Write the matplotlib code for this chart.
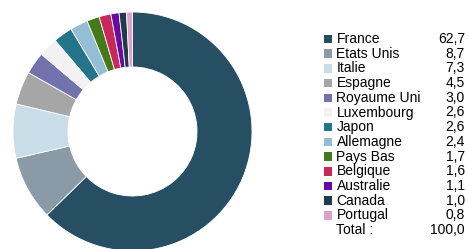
import matplotlib
matplotlib.use("Agg")
import matplotlib.pyplot as plt
from matplotlib.patches import Rectangle

countries = ["France", "Etats Unis", "Italie", "Espagne", "Royaume Uni", "Luxembourg",
             "Japon", "Allemagne", "Pays Bas", "Belgique", "Australie", "Canada", "Portugal"]
values = [62.7, 8.7, 7.3, 4.5, 3.0, 2.6, 2.6, 2.4, 1.7, 1.6, 1.1, 1.0, 0.8]
colors = ["#264f63", "#8a9ba7", "#c9dde9", "#a6a6a6", "#7272ae", "#f2f2f2",
          "#25758a", "#96bdd6", "#457a1a", "#c8285a", "#6a0aa0", "#1f3a4a", "#dca2cc"]
total_label = "Total :"
total_value = "100,0"

plt.rcParams['font.family'] = ['Liberation Sans', 'DejaVu Sans']

W, H = 468, 249
fig = plt.figure(figsize=(W / 100, H / 100), dpi=100)

# donut
cx, cy, r = 132.5, 131.5, 119.5
ax = fig.add_axes([(cx - r) / W, (H - cy - r) / H, 2 * r / W, 2 * r / H])
ax.pie(values, colors=colors, startangle=90, counterclock=False, radius=1,
       wedgeprops=dict(width=0.46, edgecolor="white", linewidth=0.6))
ax.set_xlim(-1, 1)
ax.set_ylim(-1, 1)
ax.set_aspect("equal")
ax.axis("off")

# legend
y0, step = 39.0, 14.7
sq = 8.5
fs = 10
for i, (name, v, c) in enumerate(zip(countries, values, colors)):
    y = y0 + i * step
    fig.patches.append(Rectangle(((323.5) / W, (H - y - sq / 2) / H), sq / W, sq / H,
                                 transform=fig.transFigure, facecolor=c, edgecolor="none"))
    fig.text(336.5 / W, (H - y) / H, name, fontsize=fs, va="center", ha="left", color="black")
    fig.text(465 / W, (H - y) / H, f"{v:.1f}".replace(".", ","), fontsize=fs,
             va="center", ha="right", color="black")
y = y0 + len(countries) * step
fig.text(336.5 / W, (H - y) / H, total_label, fontsize=fs, va="center", ha="left", color="black")
fig.text(465 / W, (H - y) / H, total_value, fontsize=fs, va="center", ha="right", color="black")

fig.savefig("out.png", dpi=100)
